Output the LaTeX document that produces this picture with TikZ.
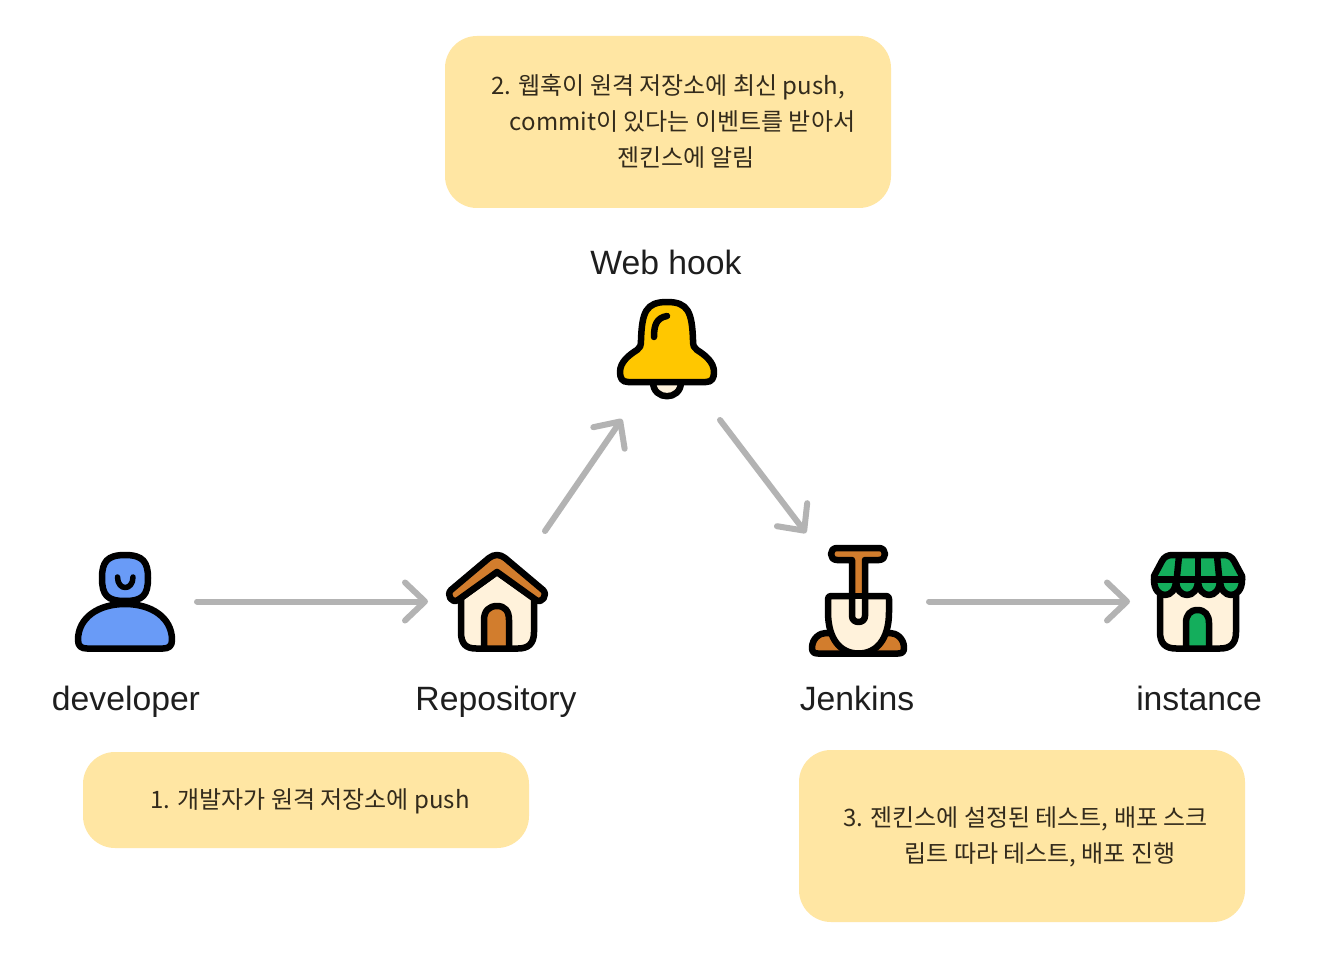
\documentclass[tikz,border=0pt]{standalone}
\usepackage{fontspec}
\usetikzlibrary{arrows.meta}
\setmainfont{Liberation Sans}
\newfontfamily\kr{Noto Sans CJK KR}
\definecolor{notefill}{HTML}{FFE6A3}
\definecolor{arrowgray}{HTML}{B3B3B3}
\definecolor{bellyellow}{HTML}{FFC700}
\definecolor{personblue}{HTML}{699BF7}
\definecolor{roofbrown}{HTML}{D27D2D}
\definecolor{cream}{HTML}{FFF2DB}
\definecolor{shopgreen}{HTML}{14AE5C}
\definecolor{inktext}{HTML}{1E1E1E}
\definecolor{notetext}{HTML}{332B1C}
\tikzset{
  x=1pt,y=-1pt,
  notebox/.style={fill=notefill,rounded corners=32pt,draw=none},
  ico/.style={draw=black,line width=6.5pt,line join=round,line cap=round},
  flow/.style={draw=arrowgray,line width=6pt,line cap=round,
    -{Straight Barb[length=20pt,width=38pt,round,line width=6pt]}},
  lab/.style={font=\fontsize{33.7}{36}\selectfont,text=inktext,inner sep=0pt,anchor=base},
  notetxt/.style={font=\fontsize{24}{36}\selectfont\kr,text=notetext,inner sep=0pt,anchor=base},
}
\begin{document}
\begin{tikzpicture}
\useasboundingbox (0,0) rectangle (1324,968);
\fill[white] (0,0) rectangle (1324,968);
% note boxes
\path[notebox] (445,36) rectangle (891,208);
\path[notebox] (83,752) rectangle (529,848);
\path[notebox] (799,750) rectangle (1245,922);
\node[notetxt] (n2a) at (668,94.7) {2. 웹훅이 원격 저장소에 최신 push,};
\node[notetxt] (n2b) at (682.5,130.7) {commit이 있다는 이벤트를 받아서};
\node[notetxt] (n2c) at (686,166.7) {젠킨스에 알림};
\node[notetxt] (n1) at (310,808.2) {1. 개발자가 원격 저장소에 push};
\node[notetxt] (n3a) at (1025.5,826.2) {3. 젠킨스에 설정된 테스트, 배포 스크};
\node[notetxt] (n3b) at (1040,862.2) {립트 따라 테스트, 배포 진행};
% labels
\node[lab] (lweb) at (666,274.5) {Web hook};
\node[lab] (ldev) at (126,710) {developer};
\node[lab] (lrep) at (496,710) {Repository};
\node[lab] (ljen) at (857,710) {Jenkins};
\node[lab] (lins) at (1199,710) {instance};
% connector ends
\coordinate (a1) at (197,601.5); \coordinate (a2) at (428,601.5);
\coordinate (b1) at (545,531); \coordinate (b2) at (622,419);
\coordinate (c1) at (720,420); \coordinate (c2) at (806,533);
\coordinate (d1) at (929,601.5); \coordinate (d2) at (1130,601.5);
\draw[flow] (a1) -- (a2);
\draw[flow] (b1) -- (b2);
\draw[flow] (c1) -- (c2);
\draw[flow] (d1) -- (d2);
% bell
\draw[ico,fill=cream] (653,382) .. controls (653,401) and (681,401) .. (681,382);
\draw[ico,fill=bellyellow] (628,382) .. controls (622,382) and (620,378) .. (620,372)
  .. controls (620,362) and (629,355) .. (637,350)
  .. controls (640,348) and (641,346) .. (641,340)
  .. controls (642,312) and (646,302) .. (667,302)
  .. controls (688,302) and (692,312) .. (693,340)
  .. controls (693,346) and (694,348) .. (697,350)
  .. controls (705,355) and (714,362) .. (714,372)
  .. controls (714,378) and (712,382) .. (706,382) -- cycle;
\draw[ico] (654,337) .. controls (654,324) and (657,318) .. (667,316);
% person
\draw[ico,fill=personblue] (125,555) .. controls (107,555) and (102,562) .. (102,578)
  .. controls (102,595) and (107,601) .. (125,601)
  .. controls (143,601) and (148,595) .. (148,578)
  .. controls (148,562) and (143,555) .. (125,555) -- cycle;
\draw[ico,fill=personblue] (87,648.5) .. controls (81,648.5) and (78,646) .. (78,640)
  .. controls (78,618) and (98,604) .. (125,604)
  .. controls (152,604) and (172,618) .. (172,640)
  .. controls (172,646) and (169,648.5) .. (163,648.5) -- cycle;
\draw[ico,line width=5.5pt] (117.5,577) .. controls (117.5,591) and (133,591) .. (133,577);
% house
\draw[ico,fill=cream] (461,598) -- (461,632) .. controls (461,644) and (466,648.5) .. (476,648.5)
  -- (518,648.5) .. controls (528,648.5) and (534,644) .. (534,632) -- (534,598)
  -- (497,572) -- cycle;
\draw[ico,fill=roofbrown] (497,572) -- (458,600) .. controls (452,604) and (446,595) .. (451,590)
  -- (489,558) .. controls (494,554) and (500,554) .. (505,558)
  -- (543,590) .. controls (548,595) and (542,604) .. (536,600) -- cycle;
\draw[ico,fill=roofbrown] (484,648.5) -- (484,620) .. controls (484,611) and (489,606) .. (497,606)
  .. controls (505,606) and (509,611) .. (509,620) -- (509,648.5) -- cycle;
% shovel
\draw[ico,fill=roofbrown] (812,648) .. controls (812,638) and (820,633) .. (826,633)
  -- (890,633) .. controls (896,633) and (904,638) .. (904,648)
  .. controls (904,652) and (902,653.5) .. (898,653.5) -- (818,653.5)
  .. controls (814,653.5) and (812,652) .. (812,648) -- cycle;
\draw[ico,fill=cream] (831,596) -- (886,596) .. controls (888,596) and (889,597) .. (889,599) -- (889,612)
  .. controls (889,640) and (876,653.5) .. (858.5,653.5)
  .. controls (841,653.5) and (828,640) .. (828,612) -- (828,599)
  .. controls (828,597) and (829,596) .. (831,596) -- cycle;
\fill[roofbrown] (837,548) -- (879,548) .. controls (887,548) and (887,560) .. (879,560)
  -- (865,560) -- (865,596) -- (852,596) -- (852,560) -- (837,560)
  .. controls (829,560) and (829,548) .. (837,548) -- cycle;
\fill[cream] (852,596) -- (865,596) -- (865,616) .. controls (865,624) and (852,624) .. (852,616) -- cycle;
\draw[ico] (837,548) -- (879,548) .. controls (887,548) and (887,560) .. (879,560)
  -- (865,560) -- (865,616) .. controls (865,624) and (852,624) .. (852,616)
  -- (852,560) -- (837,560) .. controls (829,560) and (829,548) .. (837,548) -- cycle;
\draw[ico] (831,596) -- (886,596);
% shop
\draw[ico,fill=cream] (1160,585) -- (1160,632) .. controls (1160,644) and (1166,648.5) .. (1176,648.5)
  -- (1220,648.5) .. controls (1230,648.5) and (1236,644) .. (1236,632) -- (1236,585) -- cycle;
\draw[ico,fill=shopgreen] (1186,648.5) -- (1186,623) .. controls (1186,615) and (1190,610) .. (1197.5,610)
  .. controls (1205,610) and (1209,615) .. (1209,623) -- (1209,648.5) -- cycle;
\draw[ico,fill=shopgreen] (1154,576) -- (1162,561) .. controls (1164,557) and (1168,555) .. (1172,555)
  -- (1224,555) .. controls (1228,555) and (1232,557) .. (1234,561) -- (1242,576)
  -- (1242,580) .. controls (1242,600) and (1220,600) .. (1220,580)
  .. controls (1220,600) and (1198,600) .. (1198,580)
  .. controls (1198,600) and (1176,600) .. (1176,580)
  .. controls (1176,600) and (1154,600) .. (1154,580) -- cycle;
\draw[ico] (1154,579.5) -- (1242,579.5);
\draw[ico] (1176,586) -- (1179,556);
\draw[ico] (1198,586) -- (1198,556);
\draw[ico] (1220,586) -- (1217,556);
\end{tikzpicture}
\end{document}
